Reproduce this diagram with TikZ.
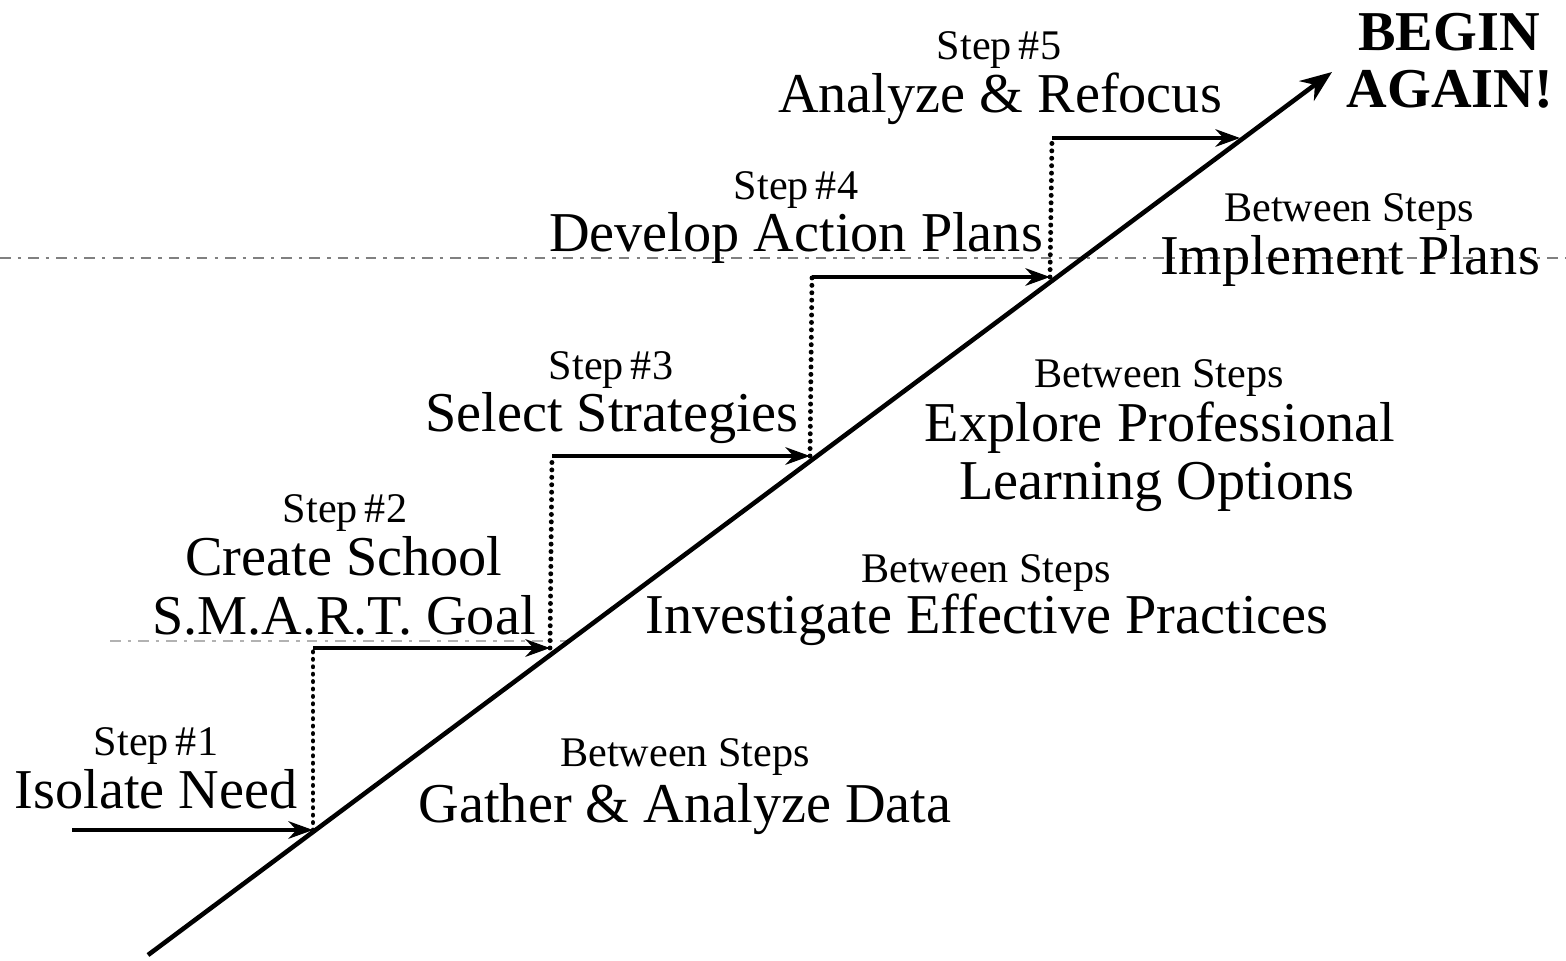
\documentclass[tikz,border=0pt]{standalone}
\usepackage{fontspec}
\setmainfont{Liberation Serif}
\usetikzlibrary{arrows.meta}
\tikzset{
  big/.style={font=\fontsize{16}{19}\selectfont, anchor=base, inner sep=0pt},
  small/.style={font=\fontsize{12}{14}\selectfont, anchor=base, inner sep=0pt},
  bold/.style={font=\fontsize{16}{19}\selectfont\bfseries, anchor=base, inner sep=0pt},
  stair/.style={line width=1pt, -{Stealth[length=7pt,width=5pt]}},
  riser/.style={line width=1.4pt, dash pattern=on 0.01pt off 2.1pt, line cap=round},
  mainline/.style={line width=1.3pt, -{Stealth[length=9pt,width=7pt]}},
  fold/.style={line width=0.4pt, gray, dash pattern=on 3pt off 2pt on 1pt off 2pt}
}
\begin{document}
\begin{tikzpicture}[x=0.01cm,y=-0.01cm]
\useasboundingbox (0,0) rectangle (1566,960);
% scan fold lines
\draw[fold] (0,258) -- (1566,258);
\draw[fold, gray!60] (110,641) -- (570,641);
% main diagonal
\coordinate (d0) at (148,955);
\coordinate (d1) at (1332,72);
\draw[mainline] (d0) -- (d1);
% stairs
\coordinate (a0) at (72,830);
\coordinate (s1) at (313,830);
\coordinate (t1) at (313,648);
\coordinate (s2) at (550,648);
\coordinate (t2) at (552,456);
\coordinate (s3) at (810,456);
\coordinate (t3) at (812,277);
\coordinate (s4) at (1050,277);
\coordinate (t4) at (1052,138);
\coordinate (s5) at (1240,138);
\draw[stair] (a0) -- (s1);
\draw[riser] (s1) -- (t1);
\draw[stair] (t1) -- (s2);
\draw[riser] (s2) -- (t2);
\draw[stair] (t2) -- (s3);
\draw[riser] (s3) -- (t3);
\draw[stair] (t3) -- (s4);
\draw[riser] (s4) -- (t4);
\draw[stair] (t4) -- (s5);
% step labels
\node[small] (st1) at (156,755) {Step\,\#1};
\node[big] (n1) at (156,808) {Isolate Need};
\node[small] (st2) at (345,522) {Step\,\#2};
\node[big] (n2a) at (344,575) {Create School};
\node[big] (n2b) at (344,634) {S.M.A.R.T. Goal};
\node[small] (st3) at (611,379) {Step\,\#3};
\node[big] (n3) at (612,431) {Select Strategies};
\node[small] (st4) at (796,199) {Step\,\#4};
\node[big] (n4) at (796,251) {Develop Action Plans};
\node[small] (st5) at (999,59) {Step\,\#5};
\node[big] (n5) at (1000,112) {Analyze \& Refocus};
\node[bold] (b1) at (1449,50) {BEGIN};
\node[bold] (b2) at (1450,107) {AGAIN!};
% between steps
\node[small] (bs1) at (685,766) {Between Steps};
\node[big] (g1) at (685,822) {Gather \& Analyze Data};
\node[small] (bs2) at (986,582) {Between Steps};
\node[big] (g2) at (987,633) {Investigate Effective Practices};
\node[small] (bs3) at (1159,387) {Between Steps};
\node[big] (g3a) at (1160,441) {Explore Professional};
\node[big] (g3b) at (1157,499) {Learning Options};
\node[small] (bs4) at (1349,221) {Between Steps};
\node[big] (g4) at (1350,274) {Implement Plans};
\end{tikzpicture}
\end{document}
